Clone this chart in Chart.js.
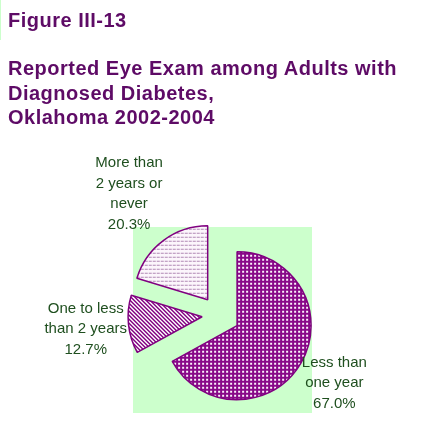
<!DOCTYPE html>
<html><head><meta charset="utf-8">
<script src="https://cdn.jsdelivr.net/npm/chart.js@4/dist/chart.umd.min.js"></script>
<style>
html,body{margin:0;padding:0;background:#fff;}
#wrap{position:relative;width:443px;height:444px;overflow:hidden;}
canvas{position:absolute;left:0;top:0;}
.t{position:absolute;left:8px;font-family:"Liberation Sans",Arial,sans-serif;font-weight:bold;font-size:20px;color:#5e0b66;letter-spacing:0.5px;white-space:nowrap;}
</style></head><body>
<div id="wrap">
<canvas id="c" width="443" height="444"></canvas>
<div class="t" style="top:8px;line-height:24px">Figure III-13</div>
<div class="t" style="top:56px;line-height:24.5px">Reported Eye Exam among Adults with<br>Diagnosed Diabetes,<br>Oklahoma 2002-2004</div>
<div style="position:absolute;left:0;top:0;width:1px;height:40px;background:#ccffcc"></div>
</div>
<script>
// ---- data ----
const categories = [["Less than","one year"],["One to less","than 2 years"],["More than","2 years or","never"]];
const percentages = [67.0, 12.7, 20.3];

// ---- style ----
const explode = [21, 17, 19];
const labelDist = [134, 134, 151];

function makePattern(bg, draw){
  const c = document.createElement('canvas'); c.width = 4; c.height = 4;
  const x = c.getContext('2d');
  x.fillStyle = bg; x.fillRect(0,0,4,4);
  draw(x);
  return document.getElementById('c').getContext('2d').createPattern(c,'repeat');
}
const patMain = makePattern('#880888', x=>{ x.fillStyle='#fbf0fb'; x.fillRect(0,0,2,2); });
const patStripe = makePattern('#ffffff', x=>{ x.fillStyle='#800080'; for(let i=0;i<4;i++){ x.fillRect(i,i,1,1); x.fillRect((i+1)%4,i,1,1);} });
const patDash = makePattern('#fcf6fc', x=>{ x.fillStyle='#b088b4'; x.fillRect(0,0,3,1); });

const bgPlugin = {
  id:'bgPlot',
  beforeDraw(chart){
    const ctx = chart.ctx; ctx.save();
    ctx.fillStyle = '#ccffcc'; ctx.fillRect(133,227,179,186);
    ctx.restore();
  }
};
const explodePlugin = {
  id:'explode',
  beforeDatasetDraw(chart, args){
    const ctx = chart.ctx;
    args.meta.data.forEach((arc,i)=>{
      const mid = (arc.startAngle+arc.endAngle)/2;
      ctx.save();
      ctx.translate(Math.cos(mid)*explode[i], Math.sin(mid)*explode[i]);
      arc.draw(ctx);
      ctx.restore();
    });
    return false;
  }
};
const labelPlugin = {
  id:'sliceLabels',
  afterDatasetsDraw(chart){
    const ctx = chart.ctx;
    const meta = chart.getDatasetMeta(0);
    ctx.save();
    ctx.font = '15px "Liberation Sans", Arial, sans-serif';
    ctx.fillStyle = '#1f4f1f';
    ctx.textAlign = 'center'; ctx.textBaseline = 'middle';
    meta.data.forEach((arc,i)=>{
      const mid = (arc.startAngle+arc.endAngle)/2;
      const cx = arc.x + Math.cos(mid)*labelDist[i];
      const cy = arc.y + Math.sin(mid)*labelDist[i];
      const lines = [...categories[i], percentages[i].toFixed(1)+'%'];
      const lh = 20.5;
      lines.forEach((s,k)=>ctx.fillText(s, cx, cy + (k-(lines.length-1)/2)*lh));
    });
    ctx.restore();
  }
};

new Chart(document.getElementById('c'), {
  type:'pie',
  data:{
    labels: categories.map(l=>l.join(' ')),
    datasets:[{
      data: percentages,
      backgroundColor:[patMain, patStripe, patDash],
      borderColor:'#800080',
      borderWidth:1.5
    }]
  },
  options:{
    responsive:false,
    animation:false,
    devicePixelRatio:1,
    events:[],
    radius:74,
    layout:{padding:{left:129,right:134,top:225,bottom:39}},
    plugins:{legend:{display:false}, tooltip:{enabled:false}, title:{display:false}}
  },
  plugins:[bgPlugin, explodePlugin, labelPlugin]
});
</script>
</body></html>
